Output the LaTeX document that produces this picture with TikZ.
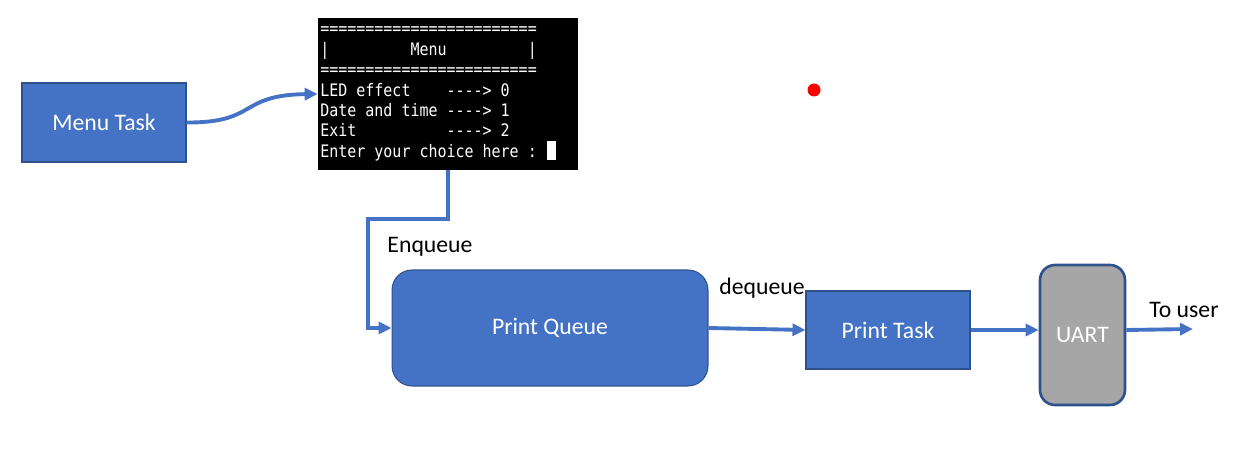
\documentclass[tikz,border=0pt]{standalone}
\usepackage{fontspec}
\setmainfont{Carlito}
\setmonofont[FakeStretch=0.87]{DejaVu Sans Mono}
\usepackage{xcolor}
\usepackage{tikz}
\usetikzlibrary{positioning,calc,arrows.meta}

\definecolor{boxblue}{HTML}{4472C4}
\definecolor{edgeblue}{HTML}{2F528F}
\definecolor{uartgray}{HTML}{A6A6A6}

\tikzset{
  taskbox/.style={draw=edgeblue, line width=0.6pt, fill=boxblue, text=white, font=\fontsize{13.5}{16}\selectfont},
  flow/.style={draw=boxblue, line width=2.2pt, -{Triangle[length=0.26cm, width=0.24cm]}},
  lbl/.style={font=\fontsize{13.5}{16}\selectfont, text=black},
  termtext/.style={anchor=base west, inner sep=0pt, text=white, font=\fontsize{9.8}{11}\selectfont\ttfamily}
}

\begin{document}
\begin{tikzpicture}[x=0.02cm, y=-0.02cm]
  \useasboundingbox (0,0) rectangle (1235,475);

  % tasks and queue
  \node[taskbox, minimum width=3.28cm, minimum height=1.58cm] (menu) at (104,122.5) {Menu Task};
  \node[taskbox, rounded corners=0.4cm, minimum width=6.32cm, minimum height=2.32cm] (queue) at (550,328) {Print Queue};
  \node[taskbox, minimum width=3.28cm, minimum height=1.56cm] (ptask) at (888,330) {Print Task};
  \node[taskbox, fill=uartgray, line width=1.5pt, rounded corners=0.3cm, minimum width=1.7cm, minimum height=2.8cm] (uart) at (1082.5,335) {UART};

  % console screen
  \node[fill=black, inner sep=0pt, minimum width=5.2cm, minimum height=3.04cm] (term) at (448,94) {};
  \node[termtext] (screen) at (320,157.2) {\vbox{\baselineskip=0.408cm \lineskiplimit=-\maxdimen
    \hbox{========================}
    \hbox{|~~~~~~~~~Menu~~~~~~~~~|}
    \hbox{========================}
    \hbox{LED~effect~~~~---->~0}
    \hbox{Date~and~time~---->~1}
    \hbox{Exit~~~~~~~~~~---->~2}
    \hbox{Enter~your~choice~here~:}}};
  \fill[white] (547,141) rectangle (556,160);

  % laser dot
  \fill[red] (814,90) circle (6.5);

  % connectors
  \draw[flow] (menu.east) .. controls (258,123) and (238,95) .. (term.west);
  \draw[flow] (term.south) |- (368,219) |- (queue.west);
  \draw[flow] (queue.east) -- (ptask.west);
  \draw[flow] (ptask.east) -- (ptask.east -| uart.west);
  \coordinate (user) at (1193,329);
  \draw[flow] (uart.east |- ptask.east) -- (user);

  \node[lbl] (enq) at (430,247) {Enqueue};
  \node[lbl] (deq) at (762,288) {dequeue};
  \node[lbl] (touser) at (1184,310) {To user};
\end{tikzpicture}
\end{document}
